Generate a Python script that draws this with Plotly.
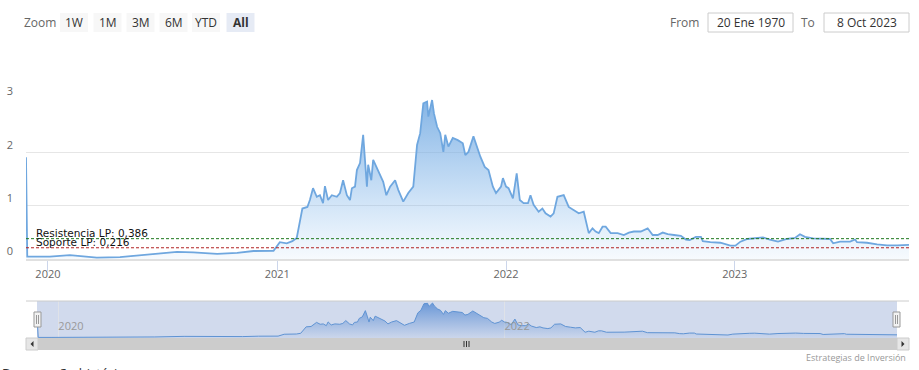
import plotly.graph_objects as go

# ---------------- data ----------------
dates = [
    "2019-11-27", "2019-11-29", "2019-12-20", "2020-01-04", "2020-02-05", "2020-03-19",
    "2020-04-25", "2020-06-07", "2020-07-25", "2020-08-20", "2020-09-27", "2020-10-29",
    "2020-11-24", "2020-12-26", "2021-01-05", "2021-01-16", "2021-01-25", "2021-02-01",
    "2021-02-09", "2021-02-10", "2021-02-18", "2021-02-22", "2021-02-27", "2021-03-05",
    "2021-03-10", "2021-03-15", "2021-03-18", "2021-03-23", "2021-03-29", "2021-04-06",
    "2021-04-11", "2021-04-16", "2021-04-22", "2021-04-27", "2021-04-30", "2021-05-05",
    "2021-05-08", "2021-05-13", "2021-05-18", "2021-05-21", "2021-05-24", "2021-05-26",
    "2021-05-31", "2021-06-03", "2021-06-11", "2021-06-19", "2021-06-24", "2021-06-30",
    "2021-07-08", "2021-07-13", "2021-07-21", "2021-07-29", "2021-08-06", "2021-08-12",
    "2021-08-17", "2021-08-22", "2021-08-28", "2021-08-30", "2021-09-05", "2021-09-08",
    "2021-09-13", "2021-09-18", "2021-09-23", "2021-09-26", "2021-10-01", "2021-10-08",
    "2021-10-16", "2021-10-24", "2021-10-28", "2021-11-02", "2021-11-10", "2021-11-17",
    "2021-11-21", "2021-11-28", "2021-12-04", "2021-12-11", "2021-12-16", "2021-12-24",
    "2021-12-27", "2022-01-01", "2022-01-05", "2022-01-12", "2022-01-18", "2022-01-23",
    "2022-01-29", "2022-02-05", "2022-02-09", "2022-02-14", "2022-02-22", "2022-02-28",
    "2022-03-05", "2022-03-13", "2022-03-18", "2022-03-24", "2022-04-03", "2022-04-11",
    "2022-04-19", "2022-04-27", "2022-05-05", "2022-05-10", "2022-05-13", "2022-05-19",
    "2022-05-24", "2022-05-29", "2022-06-04", "2022-06-09", "2022-06-17", "2022-06-28",
    "2022-07-08", "2022-07-16", "2022-07-24", "2022-08-04", "2022-08-15", "2022-08-23",
    "2022-08-31", "2022-09-08", "2022-09-16", "2022-09-26", "2022-10-07", "2022-10-15",
    "2022-10-21", "2022-10-31", "2022-11-08", "2022-11-11", "2022-11-23", "2022-12-09",
    "2022-12-25", "2023-01-02", "2023-01-10", "2023-01-21", "2023-02-06", "2023-02-15",
    "2023-02-26", "2023-03-11", "2023-03-25", "2023-04-07", "2023-04-15", "2023-04-23",
    "2023-05-06", "2023-05-20", "2023-06-02", "2023-06-07", "2023-06-18", "2023-07-04",
    "2023-07-12", "2023-07-15", "2023-07-31", "2023-08-16", "2023-09-01", "2023-09-17",
    "2023-10-06",
]
prices = [
    1.91, 0.05, 0.05, 0.05, 0.08, 0.03,
    0.04, 0.09, 0.14, 0.13, 0.10, 0.12,
    0.155, 0.16, 0.32, 0.30, 0.34, 0.40,
    0.87, 0.95, 0.98, 1.11, 1.33, 1.17,
    1.20, 1.05, 1.37, 1.11, 1.20, 1.17,
    1.24, 1.48, 1.20, 1.11, 1.33, 1.36,
    1.67, 1.80, 2.33, 1.86, 1.36, 1.77,
    1.48, 1.86, 1.64, 1.45, 1.20, 1.36,
    1.48, 1.30, 1.08, 1.24, 1.36, 2.14,
    2.36, 2.92, 2.95, 2.67, 2.98, 2.73,
    2.48, 2.36, 2.01, 2.33, 2.11, 2.27,
    2.23, 2.17, 1.95, 2.01, 2.30, 2.05,
    1.92, 1.73, 1.67, 1.36, 1.24, 1.36,
    1.52, 1.36, 1.33, 1.14, 1.61, 1.11,
    1.05, 1.05, 1.20, 1.02, 0.89, 0.95,
    0.86, 0.80, 0.86, 1.17, 1.20, 0.98,
    0.92, 0.86, 0.89, 0.61, 0.49, 0.58,
    0.52, 0.49, 0.61, 0.61, 0.49, 0.49,
    0.455, 0.50, 0.52, 0.52, 0.58, 0.455,
    0.455, 0.50, 0.47, 0.455, 0.44, 0.37,
    0.36, 0.42, 0.42, 0.34, 0.32, 0.31,
    0.255, 0.255, 0.33, 0.38, 0.40, 0.41,
    0.37, 0.33, 0.38, 0.40, 0.47, 0.42,
    0.39, 0.38, 0.38, 0.30, 0.33, 0.33,
    0.37, 0.32, 0.31, 0.28, 0.26, 0.26,
    0.27,
]

resistance = 0.386
support = 0.216
resistance_label = "Resistencia LP: 0,386"
support_label = "Soporte LP: 0,216"

y_ticks = [0, 1, 2, 3]
x_tick_vals = ["2020-01-01", "2021-01-01", "2022-01-01", "2023-01-01"]
x_tick_text = ["2020", "2021", "2022", "2023"]
nav_tick_vals = ["2020-01-01", "2022-01-01"]
nav_tick_text = ["2020", "2022"]

zoom_buttons = ["1W", "1M", "3M", "6M", "YTD", "All"]
from_text = "20 Ene 1970"
to_text = "8 Oct 2023"
credits = "Estrategias de Inversión"
bottom_text = "Desempeño histórico"

# ---------------- layout helpers (pixel -> paper) ----------------
W, H = 919, 370
def px(x):
    return x / W
def py(y):
    return (H - y) / H

x_start, x_end = dates[0], dates[-1]

fig = go.Figure()

# main area series
fig.add_trace(go.Scatter(
    x=dates, y=prices, mode="lines",
    line=dict(color="#6fa7df", width=1.8),
    fill="tozeroy",
    fillgradient=dict(type="vertical",
                      colorscale=[[0, "rgba(124,181,236,0.06)"], [1, "rgba(110,166,224,0.85)"]],
                      start=0, stop=3),
    xaxis="x", yaxis="y", hoverinfo="skip", showlegend=False,
))

# navigator series
fig.add_trace(go.Scatter(
    x=dates, y=prices, mode="lines",
    line=dict(color="#5f93d3", width=1),
    fill="tozeroy",
    fillgradient=dict(type="vertical",
                      colorscale=[[0, "rgba(90,140,210,0.05)"], [1, "rgba(80,135,210,0.8)"]],
                      start=0, stop=3),
    xaxis="x2", yaxis="y2", hoverinfo="skip", showlegend=False,
))

shapes = []
annotations = []

# plot lines (support / resistance)
for val, col in [(resistance, "#1f7a1f"), (support, "#b22222")]:
    shapes.append(dict(type="line", xref="x domain", yref="y", x0=0, x1=1, y0=val, y1=val,
                       line=dict(color=col, width=1, dash="3px,2px"), layer="above"))
for val, txt in [(resistance, resistance_label), (support, support_label)]:
    annotations.append(dict(xref="x domain", yref="y", x=0, y=val, xanchor="left", yanchor="middle",
                            xshift=8, yshift=6, text=txt, showarrow=False,
                            font=dict(family="DejaVu Sans", size=10.5, color="#111111")))

# zoom buttons
ui_font = "Open Sans"
annotations.append(dict(xref="paper", yref="paper", x=px(40), y=py(22.5), text="Zoom",
                        showarrow=False, xanchor="center", yanchor="middle",
                        font=dict(family=ui_font, size=12, color="#666666")))
btn_centers = [74, 107.5, 140.5, 173.5, 206, 240.5]
for lbl, cx in zip(zoom_buttons, btn_centers):
    sel = (lbl == "All")
    shapes.append(dict(type="rect", xref="paper", yref="paper",
                       x0=px(cx - 14), x1=px(cx + 14), y0=py(32), y1=py(13),
                       fillcolor="#e6ebf5" if sel else "#f7f7f7", line=dict(width=0), layer="above"))
    annotations.append(dict(xref="paper", yref="paper", x=px(cx), y=py(22.5),
                            text=f"<b>{lbl}</b>" if sel else lbl, showarrow=False,
                            xanchor="center", yanchor="middle",
                            font=dict(family=ui_font, size=12, color="#333333")))

# From / To inputs
annotations.append(dict(xref="paper", yref="paper", x=px(701), y=py(22.5), text="From",
                        showarrow=False, xanchor="right", yanchor="middle",
                        font=dict(family=ui_font, size=12, color="#666666")))
annotations.append(dict(xref="paper", yref="paper", x=px(817), y=py(22.5), text="To",
                        showarrow=False, xanchor="right", yanchor="middle",
                        font=dict(family=ui_font, size=12, color="#666666")))
for x0, x1, txt in [(708, 793, from_text), (824, 909, to_text)]:
    shapes.append(dict(type="rect", xref="paper", yref="paper", x0=px(x0), x1=px(x1),
                       y0=py(32), y1=py(13), fillcolor="white",
                       line=dict(color="#cccccc", width=1), layer="above"))
    annotations.append(dict(xref="paper", yref="paper", x=px((x0 + x1) / 2), y=py(22.5), text=txt,
                            showarrow=False, xanchor="center", yanchor="middle",
                            font=dict(family=ui_font, size=12, color="#333333")))

# navigator mask + outline
shapes.append(dict(type="rect", xref="paper", yref="paper", x0=px(37), x1=px(897), y0=py(338), y1=py(301),
                   fillcolor="rgba(102,133,194,0.3)", line=dict(width=0), layer="below"))
shapes.append(dict(type="line", xref="paper", yref="paper", x0=px(26), x1=px(909), y0=py(301), y1=py(301),
                   line=dict(color="#cccccc", width=1), layer="above"))
# navigator handles
for hx in [37.5, 896.5]:
    shapes.append(dict(type="rect", xref="paper", yref="paper", x0=px(hx - 3.5), x1=px(hx + 3.5),
                       y0=py(327), y1=py(312), fillcolor="#f2f2f2",
                       line=dict(color="#999999", width=1), layer="above"))
    for dx in (-1, 1):
        shapes.append(dict(type="line", xref="paper", yref="paper", x0=px(hx + dx), x1=px(hx + dx),
                           y0=py(324), y1=py(315), line=dict(color="#999999", width=1), layer="above"))

# scrollbar
shapes.append(dict(type="rect", xref="paper", yref="paper", x0=px(26), x1=px(909), y0=py(350), y1=py(338),
                   fillcolor="#f2f2f2", line=dict(width=0), layer="above"))
shapes.append(dict(type="rect", xref="paper", yref="paper", x0=px(38), x1=px(897), y0=py(350), y1=py(338),
                   fillcolor="#cccccc", line=dict(width=0), layer="above"))
for bx0, bx1 in [(26, 38), (897, 909)]:
    shapes.append(dict(type="rect", xref="paper", yref="paper", x0=px(bx0), x1=px(bx1), y0=py(350), y1=py(338),
                       fillcolor="#e6e6e6", line=dict(color="#cccccc", width=1), layer="above"))
for gx in (464, 466.5, 469):
    shapes.append(dict(type="line", xref="paper", yref="paper", x0=px(gx), x1=px(gx), y0=py(347), y1=py(341),
                       line=dict(color="#333333", width=1), layer="above"))
def tri(pts):
    return "M " + " L ".join(f"{px(a)},{py(b)}" for a, b in pts) + " Z"
shapes.append(dict(type="path", xref="paper", yref="paper", path=tri([(33.5, 341), (33.5, 347), (30.5, 344)]),
                   fillcolor="#333333", line=dict(width=0), layer="above"))
shapes.append(dict(type="path", xref="paper", yref="paper", path=tri([(901.5, 341), (901.5, 347), (904.5, 344)]),
                   fillcolor="#333333", line=dict(width=0), layer="above"))

# credits + cropped bottom text
annotations.append(dict(xref="paper", yref="paper", x=px(908), y=py(357), text=credits, showarrow=False,
                        xanchor="right", yanchor="middle",
                        font=dict(family=ui_font, size=9, color="#999999")))
annotations.append(dict(xref="paper", yref="paper", x=px(0), y=py(362), text=bottom_text,
                        showarrow=False, xanchor="left", yanchor="top",
                        font=dict(family=ui_font, size=13, color="#333333")))

fig.update_layout(
    width=W, height=H, autosize=False,
    margin=dict(l=0, r=0, t=0, b=0, pad=0, autoexpand=False),
    paper_bgcolor="white", plot_bgcolor="rgba(0,0,0,0)",
    showlegend=False,
    xaxis=dict(domain=[px(26), px(909)], anchor="y", range=[x_start, x_end], type="date",
               tickvals=x_tick_vals, ticktext=x_tick_text, showgrid=False, zeroline=False,
               ticks="outside", ticklen=10, tickcolor="#ccd6eb", tickwidth=1,
               showline=True, linecolor="#e0e0e0", linewidth=2, automargin=False,
               ticklabelstandoff=-7,
               tickfont=dict(family=ui_font, size=11, color="#666666"), fixedrange=True),
    yaxis=dict(domain=[py(259.3), py(99)], anchor="x", range=[0, 3], tickvals=y_ticks,
               ticktext=[str(v) for v in y_ticks], showgrid=True, gridcolor="#e6e6e6", gridwidth=1,
               zeroline=False, showline=False, ticks="", ticklabelposition="outside top",
               ticklabelstandoff=12, automargin=False,
               tickfont=dict(family=ui_font, size=11, color="#666666"), fixedrange=True),
    xaxis2=dict(domain=[px(37), px(897)], anchor="y2", range=[x_start, x_end], type="date",
                tickvals=nav_tick_vals, ticktext=nav_tick_text, showgrid=True,
                gridcolor="rgba(230,230,230,0.7)", zeroline=False, showline=False, ticks="",
                ticklabelposition="inside right", automargin=False,
                tickfont=dict(family=ui_font, size=11, color="#999999"), fixedrange=True),
    yaxis2=dict(domain=[py(338), py(301)], anchor="x2", range=[0, 3.15], visible=False,
                showgrid=False, fixedrange=True, automargin=False),
    shapes=shapes,
    annotations=annotations,
)

fig.write_html("out.html", config={"displayModeBar": False},
               post_script="document.body.style.margin='0px';")
